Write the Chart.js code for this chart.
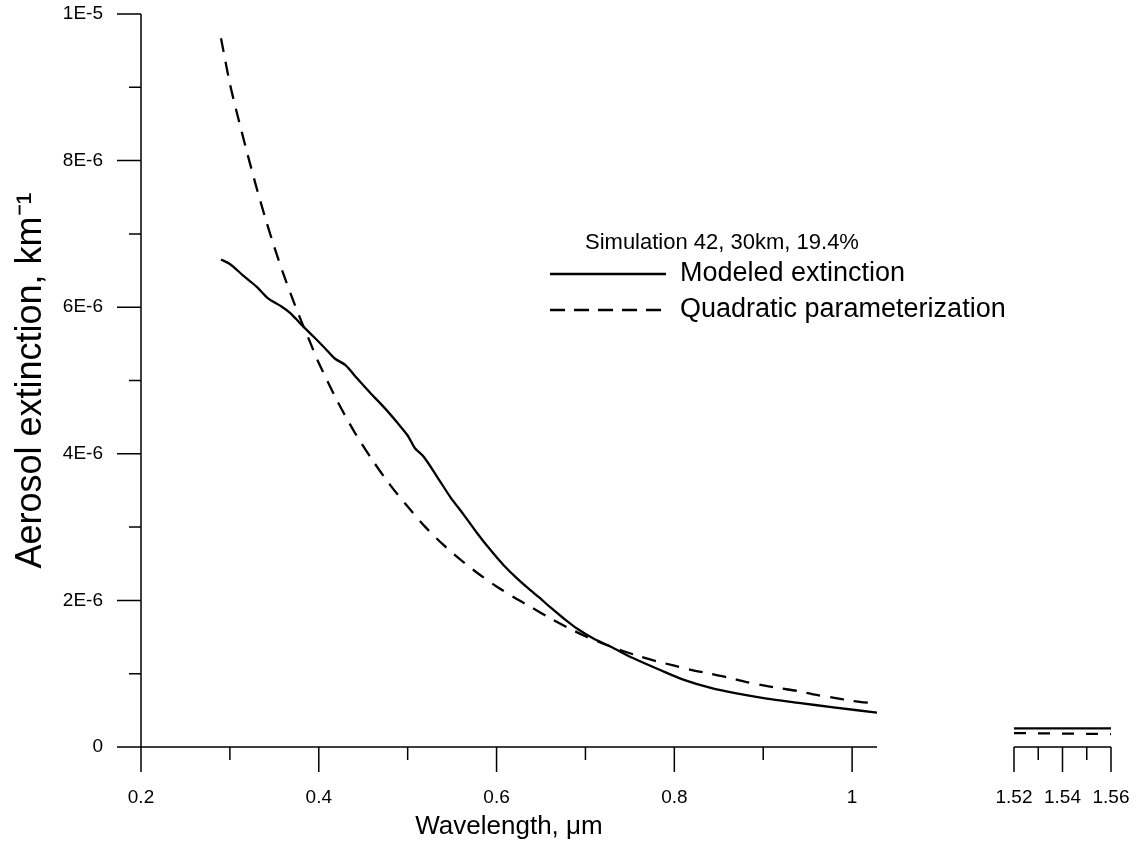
<!DOCTYPE html>
<html>
<head>
<meta charset="utf-8">
<script src="https://cdn.jsdelivr.net/npm/chart.js@4.4.1/dist/chart.umd.min.js"></script>
<style>
    body { margin: 0; background: #fff; }
    #wrap { position: relative; width: 1137px; height: 848px; }
    #wrap canvas { position: absolute; top: 0; }
</style>
</head>
<body>
<div id="wrap">
    <canvas id="mainChart" width="1137" height="848" style="left:0"></canvas>
    <canvas id="sideChart" width="147" height="848" style="left:990px"></canvas>
</div>
<script>
// wavelength in um, extinction in units of 1E-6 km^-1
const modeledWl = [0.29, 0.30, 0.315, 0.33, 0.343, 0.358, 0.368, 0.379, 0.394, 0.407, 0.418, 0.43, 0.443, 0.458, 0.473, 0.488, 0.50, 0.508, 0.518, 0.533, 0.548, 0.563, 0.578, 0.593, 0.608, 0.623, 0.638, 0.649, 0.66, 0.675, 0.69, 0.709, 0.728, 0.754, 0.784, 0.81, 0.84, 0.87, 0.904, 0.942, 0.979, 1.028];
const modeledExt = [6.65, 6.59, 6.43, 6.28, 6.12, 6.01, 5.92, 5.78, 5.60, 5.44, 5.30, 5.21, 5.03, 4.83, 4.64, 4.43, 4.25, 4.08, 3.96, 3.69, 3.41, 3.17, 2.92, 2.69, 2.48, 2.30, 2.14, 2.03, 1.91, 1.76, 1.62, 1.48, 1.37, 1.21, 1.05, 0.92, 0.81, 0.73, 0.66, 0.60, 0.54, 0.47];

const quadWl = [0.29, 0.30, 0.31, 0.32, 0.33, 0.34, 0.35, 0.36, 0.37, 0.38, 0.39, 0.40, 0.42, 0.44, 0.46, 0.48, 0.50, 0.52, 0.54, 0.56, 0.58, 0.60, 0.62, 0.64, 0.66, 0.68, 0.70, 0.72, 0.74, 0.76, 0.78, 0.80, 0.82, 0.84, 0.86, 0.88, 0.90, 0.92, 0.94, 0.96, 0.98, 1.00, 1.028];
const quadExt = [9.67, 9.05, 8.55, 8.08, 7.63, 7.21, 6.82, 6.46, 6.13, 5.82, 5.53, 5.24, 4.74, 4.30, 3.92, 3.58, 3.28, 3.00, 2.76, 2.55, 2.36, 2.19, 2.04, 1.90, 1.76, 1.63, 1.51, 1.41, 1.32, 1.24, 1.17, 1.11, 1.05, 1.00, 0.95, 0.89, 0.84, 0.80, 0.76, 0.71, 0.67, 0.63, 0.59];

// the 1.52 - 1.56 um window
const sideWl = [1.52, 1.54, 1.56];
const sideModeledExt = [0.255, 0.255, 0.255];
const sideQuadExt = [0.19, 0.183, 0.176];

const xTickLabels = ['0.2', '', '0.4', '', '0.6', '', '0.8', '', '1'];
const sideTickLabels = ['1.52', '', '1.54', '', '1.56'];
const yTickLabels = ['0', '', '2E-6', '', '4E-6', '', '6E-6', '', '8E-6', '', '1E-5'];

const seriesNames = ['Modeled extinction', 'Quadratic parameterization'];
const subtitle = 'Simulation 42, 30km, 19.4%';

const FONT = 'Arial, "Liberation Sans", sans-serif';
const DASH = [14, 10];

function toPoints(xs, ys) {
    return xs.map((v, i) => ({ x: v, y: ys[i] }));
}

function lineSet(label, xs, ys, dash) {
    return {
        label: label,
        data: toPoints(xs, ys),
        borderColor: '#000',
        borderWidth: 2.3,
        borderDash: dash,
        pointRadius: 0,
        tension: 0.3,
        fill: false
    };
}

// labels keep their offset from the axis through an invisible tick mark,
// the real marks are drawn by axisMarks below
function hiddenTicks(len) {
    return { display: true, drawOnChartArea: false, drawTicks: true, tickLength: len, tickColor: 'rgba(0,0,0,0)' };
}

function fixX(scale) {
    scale.height = 101;
    scale.paddingLeft = 0;
    scale.paddingRight = 0;
}

// axis lines + long/short tick marks, placed through the scales
const axisMarks = {
    id: 'axisMarks',
    afterDraw(chart, args, opts) {
        const { ctx, chartArea: { left, right, top, bottom }, scales: { x, y } } = chart;
        ctx.save();
        ctx.strokeStyle = '#000';
        ctx.lineWidth = 1.5;
        ctx.beginPath();
        ctx.moveTo(left, bottom);
        ctx.lineTo(right, bottom);
        x.ticks.forEach(t => {
            const px = x.getPixelForValue(t.value);
            ctx.moveTo(px, bottom);
            ctx.lineTo(px, bottom + (t.label ? 25 : 13));
        });
        if (opts.yAxis) {
            ctx.moveTo(left, top);
            ctx.lineTo(left, bottom);
            y.ticks.forEach(t => {
                const py = y.getPixelForValue(t.value);
                ctx.moveTo(left, py);
                ctx.lineTo(left - (t.label ? 24 : 12), py);
            });
        }
        ctx.stroke();
        ctx.restore();
    }
};

// subtitle and line legend inside the plot
const plotLegend = {
    id: 'plotLegend',
    afterDraw(chart, args, opts) {
        const { ctx } = chart;
        ctx.save();
        ctx.fillStyle = '#000';
        ctx.textBaseline = 'middle';
        ctx.font = '22px ' + FONT;
        ctx.fillText(subtitle, opts.x + 35, opts.y - 31);
        ctx.font = '27px ' + FONT;
        chart.data.datasets.forEach((ds, i) => {
            const ly = opts.y + i * 36;
            const dashed = ds.borderDash && ds.borderDash.length;
            ctx.strokeStyle = ds.borderColor;
            ctx.lineWidth = 2.3;
            ctx.setLineDash(dashed ? [15, 9] : []);
            ctx.beginPath();
            ctx.moveTo(opts.x, ly);
            ctx.lineTo(opts.x + (dashed ? 111 : 116), ly);
            ctx.stroke();
            ctx.fillText(ds.label, opts.x + 130, ly);
        });
        ctx.restore();
    }
};

new Chart(document.getElementById('mainChart'), {
    type: 'line',
    data: {
        datasets: [
            lineSet(seriesNames[0], modeledWl, modeledExt, []),
            lineSet(seriesNames[1], quadWl, quadExt, DASH)
        ]
    },
    plugins: [axisMarks, plotLegend],
    options: {
        responsive: false,
        animation: false,
        layout: {
            padding: { left: 0, top: 14, right: 260, bottom: 0 }
        },
        scales: {
            x: {
                type: 'linear',
                min: 0.2,
                max: 1.028,
                afterFit: fixX,
                grid: hiddenTicks(39),
                border: { display: false },
                ticks: {
                    stepSize: 0.1,
                    includeBounds: false,
                    autoSkip: false,
                    maxRotation: 0,
                    padding: 0,
                    color: '#000',
                    font: { family: FONT, size: 19 },
                    callback: (value, index) => xTickLabels[index] || ''
                },
                title: {
                    display: true,
                    text: 'Wavelength, \u03bcm',
                    color: '#000',
                    font: { family: FONT, size: 26 },
                    padding: { top: 0, bottom: 6 }
                }
            },
            y: {
                min: 0,
                max: 10,
                afterFit: (scale) => {
                    scale.width = 141;
                    scale.paddingTop = 0;
                    scale.paddingBottom = 0;
                },
                grid: hiddenTicks(38),
                border: { display: false },
                ticks: {
                    stepSize: 1,
                    autoSkip: false,
                    padding: 0,
                    color: '#000',
                    font: { family: FONT, size: 19 },
                    callback: (value, index) => yTickLabels[index] || ''
                },
                title: {
                    display: true,
                    text: 'Aerosol extinction, km\u207b\u00b9',
                    color: '#000',
                    font: { family: FONT, size: 36 },
                    padding: { top: 9, bottom: 0 }
                }
            }
        },
        plugins: {
            legend: { display: false },
            tooltip: { enabled: false },
            axisMarks: { yAxis: true },
            plotLegend: { x: 550, y: 274 }
        }
    }
});

new Chart(document.getElementById('sideChart'), {
    type: 'line',
    data: {
        datasets: [
            lineSet(seriesNames[0], sideWl, sideModeledExt, []),
            lineSet(seriesNames[1], sideWl, sideQuadExt, [12, 12])
        ]
    },
    plugins: [axisMarks],
    options: {
        responsive: false,
        animation: false,
        layout: {
            padding: { left: 24, top: 14, right: 26, bottom: 0 }
        },
        scales: {
            x: {
                type: 'linear',
                min: 1.52,
                max: 1.56,
                afterFit: fixX,
                grid: hiddenTicks(39),
                border: { display: false },
                ticks: {
                    stepSize: 0.01,
                    autoSkip: false,
                    maxRotation: 0,
                    padding: 0,
                    color: '#000',
                    font: { family: FONT, size: 19 },
                    callback: (value, index) => sideTickLabels[index] || ''
                }
            },
            y: {
                display: false,
                min: 0,
                max: 10
            }
        },
        plugins: {
            legend: { display: false },
            tooltip: { enabled: false },
            axisMarks: { yAxis: false }
        }
    }
});
</script>
</body>
</html>
